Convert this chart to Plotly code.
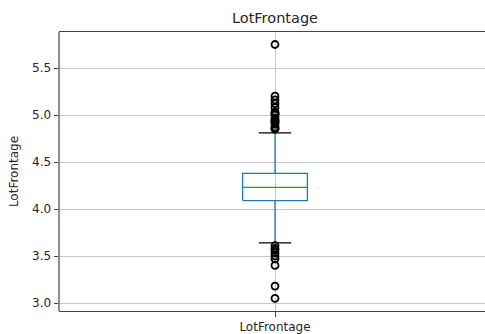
import plotly.graph_objects as go

# Data (log LotFrontage)
category = ["LotFrontage"]
q1 = [4.09]
median = [4.23]
q3 = [4.38]
whisker_low = [3.64]
whisker_high = [4.81]
outliers_high = [4.85, 4.86, 4.87, 4.90, 4.92, 4.93, 4.94, 4.95, 4.97, 5.00,
                 5.01, 5.02, 5.03, 5.08, 5.12, 5.16, 5.20, 5.75]
outliers_low = [3.61, 3.58, 3.56, 3.53, 3.50, 3.47, 3.40, 3.18, 3.05]
y_ticks = [3.0, 3.5, 4.0, 4.5, 5.0, 5.5]

BLUE = "#1f77b4"
GREEN = "#2ca02c"
pos = 1
hw = 0.075   # half box width
cw = 0.0375  # half cap width
LW = 1.3

fig = go.Figure()

# whiskers
fig.add_trace(go.Scatter(x=[pos, pos], y=[whisker_low[0], q1[0]], mode="lines",
                         line=dict(color=BLUE, width=LW), hoverinfo="skip"))
fig.add_trace(go.Scatter(x=[pos, pos], y=[q3[0], whisker_high[0]], mode="lines",
                         line=dict(color=BLUE, width=LW), hoverinfo="skip"))
# box
fig.add_trace(go.Scatter(x=[pos - hw, pos + hw, pos + hw, pos - hw, pos - hw],
                         y=[q1[0], q1[0], q3[0], q3[0], q1[0]], mode="lines",
                         line=dict(color=BLUE, width=LW), hoverinfo="skip"))
# median
fig.add_trace(go.Scatter(x=[pos - hw, pos + hw], y=[median[0], median[0]], mode="lines",
                         line=dict(color=GREEN, width=LW), hoverinfo="skip"))
# caps
for v in (whisker_low[0], whisker_high[0]):
    fig.add_trace(go.Scatter(x=[pos - cw, pos + cw], y=[v, v], mode="lines",
                             line=dict(color="black", width=LW), hoverinfo="skip"))
# fliers
fl = outliers_high + outliers_low
fig.add_trace(go.Scatter(x=[pos] * len(fl), y=fl, mode="markers",
                         marker=dict(symbol="circle-open", size=7, color="black",
                                     line=dict(color="black", width=1.8)),
                         hoverinfo="skip"))

# left spine drawn as a shape (the axes continue past the right edge)
fig.add_shape(type="line", xref="paper", yref="paper", x0=0, x1=0, y0=0, y1=1,
              line=dict(color="#444", width=1.2))

fig.update_layout(
    width=485, height=334,
    margin=dict(l=59, r=0, t=32, b=23),
    paper_bgcolor="white", plot_bgcolor="white",
    showlegend=False,
    font=dict(family="DejaVu Sans", size=12, color="#262626"),
    title=dict(text="LotFrontage", x=275 / 485, xanchor="center",
               y=1 - 18 / 334, yanchor="middle",
               font=dict(size=14.5, color="#262626")),
)
fig.update_xaxes(
    range=[0.5, 0.5 + 426 / 432],
    tickmode="array", tickvals=[pos], ticktext=category,
    ticks="outside", ticklen=4.5, tickwidth=1, tickcolor="#444",
    showgrid=True, gridcolor="#c8c8c8", gridwidth=1.2,
    showline=True, linecolor="#444", linewidth=1.2, mirror=True,
    zeroline=False,
)
fig.update_yaxes(
    range=[2.915, 5.883],
    tickmode="array", tickvals=y_ticks, ticktext=[f"{v:.1f}" for v in y_ticks],
    ticks="outside", ticklen=4.5, tickwidth=1, tickcolor="#444",
    showgrid=True, gridcolor="#c8c8c8", gridwidth=1.2,
    showline=False, mirror=False,
    zeroline=False,
    title=dict(text="LotFrontage", standoff=10, font=dict(size=12)),
)
fig.write_html("out.html")
